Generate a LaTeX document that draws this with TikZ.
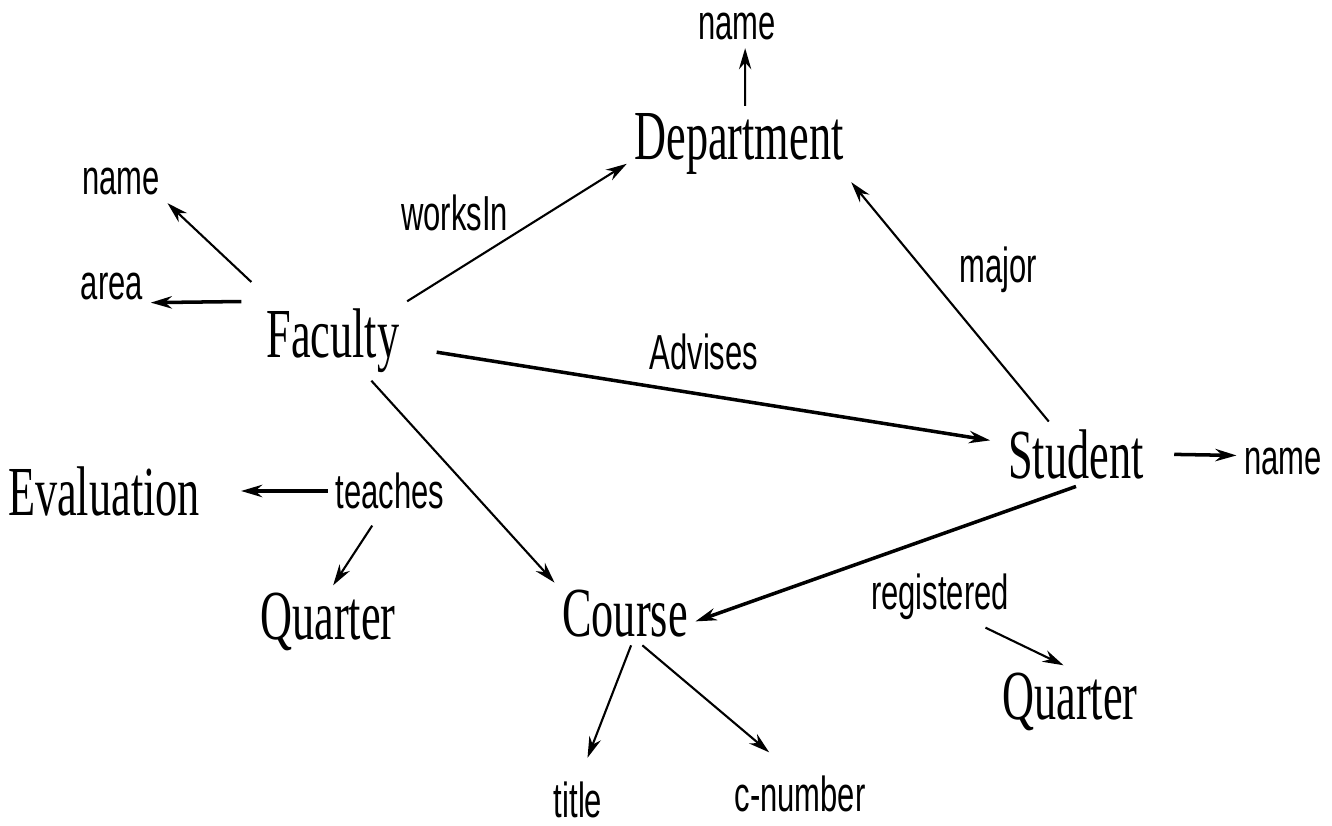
\documentclass[tikz,border=0pt]{standalone}
\usepackage{fontspec}
\usetikzlibrary{arrows.meta}
\newfontfamily\entityfont[FakeStretch=0.63]{Liberation Serif}
\newfontfamily\labelfont[FakeStretch=0.63]{Liberation Sans}

\begin{document}
\begin{tikzpicture}[
    x=0.1mm, y=-0.1mm,
    ->,
    >={Stealth[length=6pt,width=3.5pt]},
    entity/.style={inner sep=2pt, font=\entityfont\fontsize{20}{24}\selectfont},
    attr/.style={inner sep=2pt, font=\labelfont\fontsize{14}{17}\selectfont},
    lbl/.style={inner sep=1pt, font=\labelfont\fontsize{14}{17}\selectfont},
    every edge/.style={draw, line width=0.6pt},
    heavy/.style={line width=1pt}
  ]
    \useasboundingbox (0,0) rectangle (1332,826);

    \node[entity] (Dept)     at (739,144)  {Department};
    \node[attr]   (DeptName) at (737,27)   {name};
    \node[entity] (Fac)      at (333,341)  {Faculty};
    \node[attr]   (FacName)  at (121,182)  {name};
    \node[attr]   (FacArea)  at (112,287)  {area};
    \node[entity] (Stu)      at (1076,454) {Student};
    \node[attr]   (StuName)  at (1283,462) {name};
    \node[entity] (Eval)     at (104,491)  {Evaluation};
    \node[attr]   (Teaches)  at (390,491)  {teaches};
    \node[entity] (QtrL)     at (328,622)  {Quarter};
    \node[entity] (Course)   at (625,614)  {Course};
    \node[attr]   (Reg)      at (940,597)  {registered};
    \node[entity] (QtrR)     at (1070,702) {Quarter};
    \node[attr]   (Title)    at (578,800)  {title};
    \node[attr]   (CNum)     at (800,794)  {c-number};

    \path
      (Fac.147)        edge[shorten <=8pt]                (FacName.south east)
      (Fac.north west) edge[heavy, shorten <=5pt]         (FacArea.-22)
      (Fac.north east) edge node[lbl, pos=0.48, anchor=south east] {worksIn} (Dept.190)
      (Dept.81)        edge                               (DeptName.-69)
      (Stu.130)        edge node[lbl, pos=0.635, right=9pt] {major}         (Dept.south east)
      (Fac.-5)         edge[heavy, shorten <=8.5pt, shorten >=3pt]
                            node[lbl, pos=0.5, above=5.5pt] {Advises}        (Stu.171)
      (Fac.-46)        edge                               (Course.north west)
      (Stu.east)       edge[heavy, shorten <=6.5pt]       (StuName.172)
      (Teaches.west)   edge[heavy, shorten >=9.5pt]       (Eval.east)
      (Teaches.-115)   edge[shorten <=3pt]                (QtrL.82)
      (Stu.south)      edge[heavy]                        (Course.-6)
      (Reg.-34)        edge                               (QtrR.100)
      (Course.-79)     edge[shorten >=5pt]                (Title.83)
      (Course.-61)     edge[shorten >=7pt]                (CNum.115);
  \end{tikzpicture}
\end{document}
